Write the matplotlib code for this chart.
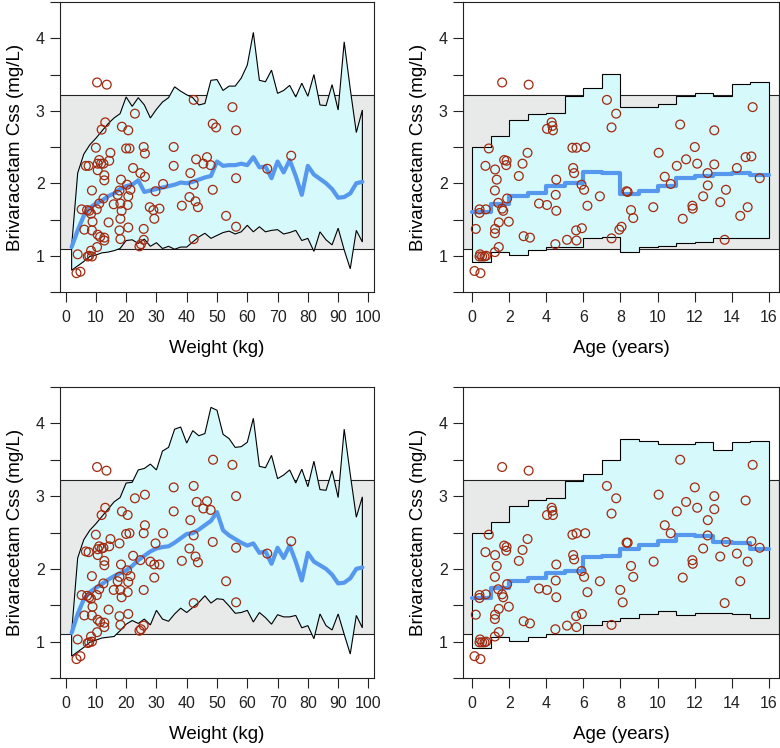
import numpy as np
import matplotlib
matplotlib.use("Agg")
import matplotlib.pyplot as plt

plt.rcParams['font.family'] = ['Liberation Sans', 'DejaVu Sans']

# ---------------- data ----------------
weight_grid = [2, 4, 6, 8, 10, 12, 14, 16, 18, 20, 22, 24, 26, 28, 30, 32, 34, 36, 38, 40,
               42, 44, 46, 48, 50, 52, 54, 56, 58, 60, 62, 64, 66, 68, 70, 72, 74, 76, 78, 80,
               82, 84, 86, 88, 90, 92, 94, 96, 98]

tl_upper = [1.13, 2.14, 2.40, 2.53, 2.62, 2.72, 2.82, 2.90, 2.96, 3.19, 3.06, 3.18, 3.08, 2.90, 3.02,
            3.12, 3.18, 3.33, 3.27, 3.22, 3.18, 3.08, 3.10, 3.42, 3.43, 3.28, 3.34, 3.34, 3.45, 3.63,
            4.08, 3.42, 3.40, 3.56, 3.24, 3.28, 3.35, 3.19, 3.38, 3.20, 3.50, 3.08, 3.07, 3.36, 3.01,
            3.95, 3.30, 2.70, 3.01]
tl_lower = [0.80, 0.86, 0.92, 0.99, 1.01, 1.04, 1.05, 1.07, 1.10, 1.21, 1.22, 1.17, 1.23, 1.13, 1.18,
            1.10, 1.13, 1.09, 1.12, 1.12, 1.19, 1.26, 1.31, 1.24, 1.28, 1.32, 1.34, 1.30, 1.33, 1.42,
            1.33, 1.40, 1.33, 1.35, 1.36, 1.30, 1.32, 1.35, 1.21, 1.24, 1.06, 1.33, 1.22, 1.15, 1.38,
            1.08, 0.82, 1.35, 1.19]
tl_median = [1.12, 1.35, 1.55, 1.66, 1.72, 1.76, 1.82, 1.86, 1.92, 1.96, 1.98, 2.04, 1.88, 1.90, 1.92,
             1.94, 1.96, 1.98, 2.01, 2.00, 2.02, 2.05, 2.08, 2.10, 2.30, 2.24, 2.25, 2.25, 2.27, 2.25,
             2.36, 2.22, 2.23, 2.07, 2.30, 2.15, 2.32, 2.10, 1.84, 2.24, 2.12, 2.06, 2.00, 1.92, 1.80,
             1.81, 1.86, 2.00, 2.02]

bl_upper = [1.13, 2.15, 2.40, 2.53, 2.62, 2.72, 2.82, 2.92, 2.98, 3.18, 3.19, 3.36, 3.38, 3.44, 3.36,
            3.62, 3.67, 3.92, 3.95, 3.73, 3.90, 3.83, 3.86, 4.22, 4.18, 3.85, 3.79, 3.67, 3.68, 3.74,
            4.07, 3.41, 3.39, 3.56, 3.24, 3.29, 3.36, 3.18, 3.37, 3.13, 3.48, 3.09, 3.08, 3.35, 2.98,
            3.92, 3.30, 2.71, 2.99]
bl_lower = [0.80, 0.86, 0.92, 0.99, 1.02, 1.05, 1.06, 1.07, 1.15, 1.24, 1.29, 1.25, 1.31, 1.23, 1.43,
            1.31, 1.28, 1.38, 1.46, 1.40, 1.47, 1.54, 1.63, 1.53, 1.59, 1.58, 1.49, 1.39, 1.40, 1.43,
            1.27, 1.40, 1.33, 1.24, 1.37, 1.34, 1.34, 1.36, 1.19, 1.22, 1.04, 1.38, 1.22, 1.16, 1.38,
            1.10, 0.83, 1.36, 1.19]
bl_median = [1.12, 1.38, 1.58, 1.68, 1.74, 1.79, 1.85, 1.90, 1.94, 1.98, 2.04, 2.12, 2.18, 2.24, 2.28,
             2.30, 2.31, 2.36, 2.42, 2.48, 2.49, 2.54, 2.60, 2.66, 2.78, 2.53, 2.46, 2.41, 2.36, 2.32,
             2.35, 2.22, 2.24, 2.07, 2.29, 2.15, 2.32, 2.10, 1.84, 2.22, 2.10, 2.05, 2.00, 1.92, 1.80,
             1.81, 1.87, 2.00, 2.02]

age_edges = [0, 1, 2, 3, 4, 5, 6, 7, 8, 9, 10, 11, 12, 13, 14, 15, 16]
tr_upper = [2.50, 2.65, 2.87, 2.95, 2.97, 3.20, 3.32, 3.51, 3.05, 3.05, 3.10, 3.20, 3.25, 3.21, 3.37, 3.40]
tr_lower = [0.92, 1.055, 1.01, 1.08, 1.12, 1.115, 1.25, 1.26, 1.055, 1.115, 1.13, 1.17, 1.19, 1.25, 1.25, 1.25]
tr_median = [1.60, 1.72, 1.82, 1.87, 1.96, 2.00, 2.16, 2.14, 1.85, 1.90, 1.96, 2.07, 2.10, 2.13, 2.14, 2.11]

br_upper = [2.50, 2.65, 2.86, 2.94, 2.98, 3.21, 3.31, 3.50, 3.79, 3.76, 3.72, 3.72, 3.74, 3.63, 3.75, 3.76]
br_lower = [0.91, 1.06, 1.01, 1.07, 1.11, 1.11, 1.23, 1.28, 1.33, 1.38, 1.42, 1.36, 1.39, 1.40, 1.38, 1.32]
br_median = [1.60, 1.74, 1.83, 1.875, 1.94, 1.975, 2.16, 2.18, 2.27, 2.335, 2.385, 2.47, 2.45, 2.365, 2.36, 2.27]

tl_obs_weight = [10.4, 13.6, 42.3, 22.9, 13.1, 11.9, 18.6, 20.7, 55.1, 48.6,
                 49.7, 56.3, 10.0, 20.0, 21.1, 25.8, 26.2, 35.7, 14.8, 11.1,
                 14.4, 6.7, 7.6, 10.6, 11.7, 12.5, 10.6, 43.1, 46.7, 45.5,
                 47.9, 35.7, 74.5, 66.6, 22.3, 24.7, 26.2, 12.8, 12.8, 41.2,
                 56.3, 18.3, 20.3, 32.2, 42.3, 8.7, 17.8, 21.4, 29.7, 48.6,
                 17.2, 20.7, 40.9, 12.5, 11.1, 15.9, 18.1, 20.5, 42.9, 38.4,
                 43.7, 5.3, 7.1, 7.8, 8.4, 10.3, 18.5, 27.8, 29.0, 31.0,
                 18.1, 29.3, 8.9, 14.2, 53.0, 56.3, 6.2, 8.7, 17.8, 20.7,
                 25.8, 10.6, 11.4, 12.8, 12.8, 18.1, 25.8, 42.3, 10.4, 24.9,
                 24.4, 4.0, 8.4, 7.8, 7.3, 8.7, 3.6, 4.9]
tl_obs_css = [3.39, 3.36, 3.15, 2.96, 2.84, 2.74, 2.78, 2.73, 3.05, 2.82,
              2.77, 2.73, 2.49, 2.48, 2.48, 2.50, 2.41, 2.50, 2.42, 2.32,
              2.31, 2.24, 2.24, 2.27, 2.27, 2.27, 2.18, 2.33, 2.36, 2.27,
              2.25, 2.24, 2.38, 2.20, 2.21, 2.14, 2.09, 2.11, 2.04, 2.14,
              2.07, 2.05, 1.98, 1.99, 1.98, 1.90, 1.90, 1.91, 1.89, 1.91,
              1.84, 1.82, 1.81, 1.79, 1.72, 1.71, 1.72, 1.70, 1.75, 1.69,
              1.67, 1.64, 1.63, 1.62, 1.58, 1.64, 1.62, 1.67, 1.63, 1.65,
              1.51, 1.51, 1.47, 1.46, 1.55, 1.40, 1.36, 1.35, 1.35, 1.39,
              1.37, 1.29, 1.26, 1.25, 1.21, 1.23, 1.22, 1.23, 1.12, 1.16,
              1.13, 1.02, 1.07, 1.00, 0.99, 0.99, 0.76, 0.78]

bl_obs_weight = [10.4, 13.5, 48.7, 55.1, 35.7, 42.3, 56.3, 22.9, 26.2, 13.1,
                 11.9, 18.6, 20.5, 43.3, 46.7, 45.5, 47.9, 35.7, 41.2, 26.2,
                 25.8, 10.0, 20.0, 21.1, 32.2, 42.3, 14.8, 17.8, 29.7, 48.6,
                 11.1, 14.4, 6.7, 7.6, 10.6, 11.9, 12.5, 10.6, 40.9, 56.3,
                 74.5, 66.6, 42.9, 43.7, 22.3, 24.7, 28.0, 29.3, 31.0, 38.4,
                 12.8, 12.8, 18.3, 20.3, 8.7, 17.8, 21.4, 29.3, 17.2, 20.7,
                 12.5, 11.1, 15.9, 18.1, 20.5, 25.8, 53.0, 5.3, 7.1, 7.8,
                 8.4, 10.3, 18.5, 8.9, 14.2, 42.3, 56.3, 6.2, 8.7, 17.8,
                 20.7, 10.6, 11.4, 12.8, 12.8, 18.1, 25.8, 24.9, 24.4, 10.4,
                 4.0, 8.4, 7.8, 7.3, 8.7, 3.6, 4.9]
bl_obs_css = [3.40, 3.35, 3.50, 3.43, 3.12, 3.14, 3.00, 2.97, 3.02, 2.84,
              2.74, 2.79, 2.74, 2.92, 2.93, 2.83, 2.81, 2.79, 2.67, 2.60,
              2.49, 2.47, 2.48, 2.49, 2.49, 2.46, 2.41, 2.35, 2.35, 2.37,
              2.31, 2.31, 2.24, 2.23, 2.27, 2.28, 2.29, 2.19, 2.28, 2.29,
              2.38, 2.21, 2.17, 2.09, 2.18, 2.12, 2.10, 2.06, 2.06, 2.11,
              2.11, 2.05, 2.06, 1.98, 1.90, 1.89, 1.90, 1.88, 1.83, 1.82,
              1.80, 1.72, 1.71, 1.71, 1.68, 1.71, 1.83, 1.64, 1.63, 1.61,
              1.59, 1.64, 1.61, 1.48, 1.44, 1.53, 1.54, 1.36, 1.36, 1.35,
              1.38, 1.30, 1.27, 1.26, 1.20, 1.23, 1.22, 1.17, 1.15, 1.13,
              1.03, 1.07, 0.99, 0.98, 1.00, 0.76, 0.80]

tr_obs_age = [1.62, 3.05, 7.27, 7.77, 7.52, 4.29, 4.33, 4.36, 4.04, 15.13,
              11.22, 13.06, 0.90, 5.41, 5.63, 6.10, 2.99, 12.01, 10.06, 1.73,
              1.86, 1.84, 0.72, 1.24, 2.72, 11.54, 12.14, 13.06, 14.75, 15.06,
              14.28, 11.04, 12.70, 5.45, 5.50, 2.52, 1.33, 4.54, 10.39, 10.71,
              15.51, 5.90, 6.04, 1.23, 8.33, 8.39, 12.71, 13.69, 1.89, 1.41,
              1.62, 1.68, 4.51, 6.89, 3.61, 4.04, 6.22, 4.54, 0.40, 0.40,
              0.74, 9.77, 11.88, 11.90, 12.46, 13.38, 14.86, 14.46, 8.57, 8.69,
              11.36, 1.98, 1.44, 0.20, 1.24, 1.23, 5.61, 5.92, 8.06, 7.94,
              2.78, 3.12, 5.12, 5.63, 7.52, 13.62, 4.49, 1.44, 1.23, 0.43,
              0.54, 0.67, 0.76, 0.40, 0.13, 0.45]
tr_obs_css = [3.39, 3.36, 3.15, 2.96, 2.77, 2.84, 2.79, 2.73, 2.75, 3.05,
              2.81, 2.73, 2.48, 2.49, 2.49, 2.50, 2.42, 2.50, 2.42, 2.32,
              2.31, 2.25, 2.24, 2.19, 2.27, 2.33, 2.27, 2.26, 2.36, 2.37,
              2.21, 2.24, 2.14, 2.21, 2.14, 2.10, 2.05, 2.05, 2.09, 1.99,
              2.07, 1.98, 1.91, 1.90, 1.89, 1.88, 1.97, 1.91, 1.79, 1.73,
              1.65, 1.62, 1.84, 1.82, 1.72, 1.70, 1.69, 1.62, 1.64, 1.59,
              1.64, 1.67, 1.69, 1.65, 1.82, 1.74, 1.67, 1.55, 1.63, 1.52,
              1.51, 1.47, 1.46, 1.37, 1.37, 1.31, 1.35, 1.38, 1.40, 1.36,
              1.27, 1.25, 1.22, 1.21, 1.24, 1.22, 1.16, 1.12, 1.05, 1.02,
              0.99, 0.99, 1.00, 0.99, 0.79, 0.76]

br_obs_age = [1.62, 3.05, 11.22, 15.13, 7.27, 7.77, 7.52, 4.29, 4.33, 4.36,
              4.04, 10.06, 12.01, 13.06, 11.54, 12.14, 13.06, 11.04, 14.75, 12.71,
              10.39, 10.71, 12.70, 0.90, 5.41, 5.63, 6.10, 2.99, 8.33, 8.39,
              13.69, 15.06, 15.51, 12.46, 1.73, 1.86, 1.84, 0.72, 1.24, 2.72,
              5.45, 5.50, 2.52, 1.33, 4.54, 13.38, 14.28, 14.86, 9.79, 11.88,
              11.90, 8.57, 8.69, 11.36, 14.46, 5.90, 6.04, 1.23, 1.89, 1.41,
              1.62, 1.68, 4.51, 6.89, 3.61, 4.04, 6.22, 4.54, 7.99, 8.12,
              13.62, 0.40, 0.40, 0.74, 1.98, 1.44, 0.20, 1.24, 1.23, 5.61,
              5.92, 2.78, 3.12, 5.12, 5.63, 7.52, 4.49, 1.44, 1.23, 0.43,
              0.54, 0.67, 0.76, 0.40, 0.13, 0.45]
br_obs_css = [3.40, 3.35, 3.50, 3.43, 3.14, 2.97, 2.76, 2.84, 2.80, 2.74,
              2.74, 3.02, 3.12, 3.00, 2.92, 2.84, 2.82, 2.79, 2.94, 2.67,
              2.60, 2.49, 2.46, 2.47, 2.47, 2.49, 2.49, 2.41, 2.36, 2.36,
              2.37, 2.38, 2.29, 2.28, 2.32, 2.30, 2.25, 2.23, 2.19, 2.26,
              2.19, 2.13, 2.11, 2.04, 2.06, 2.17, 2.21, 2.10, 2.10, 2.12,
              2.07, 2.04, 1.89, 1.88, 1.83, 1.97, 1.89, 1.89, 1.79, 1.72,
              1.65, 1.61, 1.84, 1.83, 1.73, 1.71, 1.68, 1.61, 1.71, 1.54,
              1.53, 1.64, 1.60, 1.65, 1.48, 1.45, 1.37, 1.37, 1.31, 1.35,
              1.38, 1.28, 1.25, 1.22, 1.20, 1.23, 1.17, 1.13, 1.07, 1.03,
              0.99, 0.99, 1.00, 0.99, 0.80, 0.76]

target_low, target_high = 1.1, 3.22
y_ticks = [0.5, 1, 1.5, 2, 2.5, 3, 3.5, 4, 4.5]
y_ticklabels = ['', '1', '', '2', '', '3', '', '4', '']
weight_ticks = [0, 10, 20, 30, 40, 50, 60, 70, 80, 90, 100]
age_ticks = [0, 2, 4, 6, 8, 10, 12, 14, 16]
ylabel_text = 'Brivaracetam Css (mg/L)'

# ---------------- styles ----------------
BAND = '#E8EAEA'
CYAN = '#D6F9FC'
BLUE = '#5598EE'
RED = '#A3290F'

fig = plt.figure(figsize=(7.8, 7.48), dpi=100)

def setup(ax, xlim, xticks, xlabel):
    ax.set_xlim(*xlim)
    ax.set_ylim(0.5, 4.5)
    ax.axhspan(target_low, target_high, facecolor=BAND, edgecolor='#222222', lw=0.8, zorder=0)
    ax.set_yticks(y_ticks)
    ax.set_yticklabels(y_ticklabels)
    ax.set_xticks(xticks)
    ax.tick_params(direction='out', length=7, width=0.8, labelsize=11.5, colors='#222222')
    ax.tick_params(axis='x', pad=6)
    ax.tick_params(axis='y', pad=4)
    for s in ax.spines.values():
        s.set_linewidth(0.8)
        s.set_color('#222222')
    ax.set_xlabel(xlabel, fontsize=13.5)
    ax.set_ylabel(ylabel_text, fontsize=13.5)
    ax.xaxis.set_label_coords(0.5, -0.165)
    ax.yaxis.set_label_coords(-0.115, 0.5)

def weight_panel(ax, upper, lower, median, ox, oy):
    setup(ax, (-1.84, 101.84), weight_ticks, 'Weight (kg)')
    w = np.array(weight_grid, dtype=float)
    px = np.concatenate([w, w[::-1]])
    py = np.concatenate([np.array(upper), np.array(lower)[::-1]])
    ax.fill(px, py, facecolor=CYAN, edgecolor='black', lw=0.8, zorder=2)
    ax.plot(w, median, color=BLUE, lw=3, solid_capstyle='round', solid_joinstyle='round', zorder=3)
    ax.scatter(ox, oy, s=40, facecolors='none', edgecolors=RED, linewidths=0.9, zorder=4)

def age_panel(ax, upper, lower, median, ox, oy):
    setup(ax, (-0.49, 16.55), age_ticks, 'Age (years)')
    e = np.array(age_edges, dtype=float)
    xs = np.repeat(e, 2)[1:-1]
    up = np.repeat(np.array(upper), 2)
    lo = np.repeat(np.array(lower), 2)
    md = np.repeat(np.array(median), 2)
    px = np.concatenate([xs, xs[::-1]])
    py = np.concatenate([up, lo[::-1]])
    ax.fill(px, py, facecolor=CYAN, edgecolor='black', lw=0.8, zorder=2)
    ax.plot(xs, md, color=BLUE, lw=3, solid_capstyle='round', zorder=3)
    ax.scatter(ox, oy, s=40, facecolors='none', edgecolors=RED, linewidths=0.9, zorder=4)

W_L, W_R = 314 / 780, 316 / 780
ax1 = fig.add_axes([60 / 780, (748 - 292) / 748, W_L, 290 / 748])
ax2 = fig.add_axes([463 / 780, (748 - 292) / 748, W_R, 290 / 748])
ax3 = fig.add_axes([60 / 780, (748 - 678) / 748, W_L, 291 / 748])
ax4 = fig.add_axes([463 / 780, (748 - 678) / 748, W_R, 291 / 748])

weight_panel(ax1, tl_upper, tl_lower, tl_median, tl_obs_weight, tl_obs_css)
age_panel(ax2, tr_upper, tr_lower, tr_median, tr_obs_age, tr_obs_css)
weight_panel(ax3, bl_upper, bl_lower, bl_median, bl_obs_weight, bl_obs_css)
age_panel(ax4, br_upper, br_lower, br_median, br_obs_age, br_obs_css)

fig.savefig('out.png', dpi=100)
